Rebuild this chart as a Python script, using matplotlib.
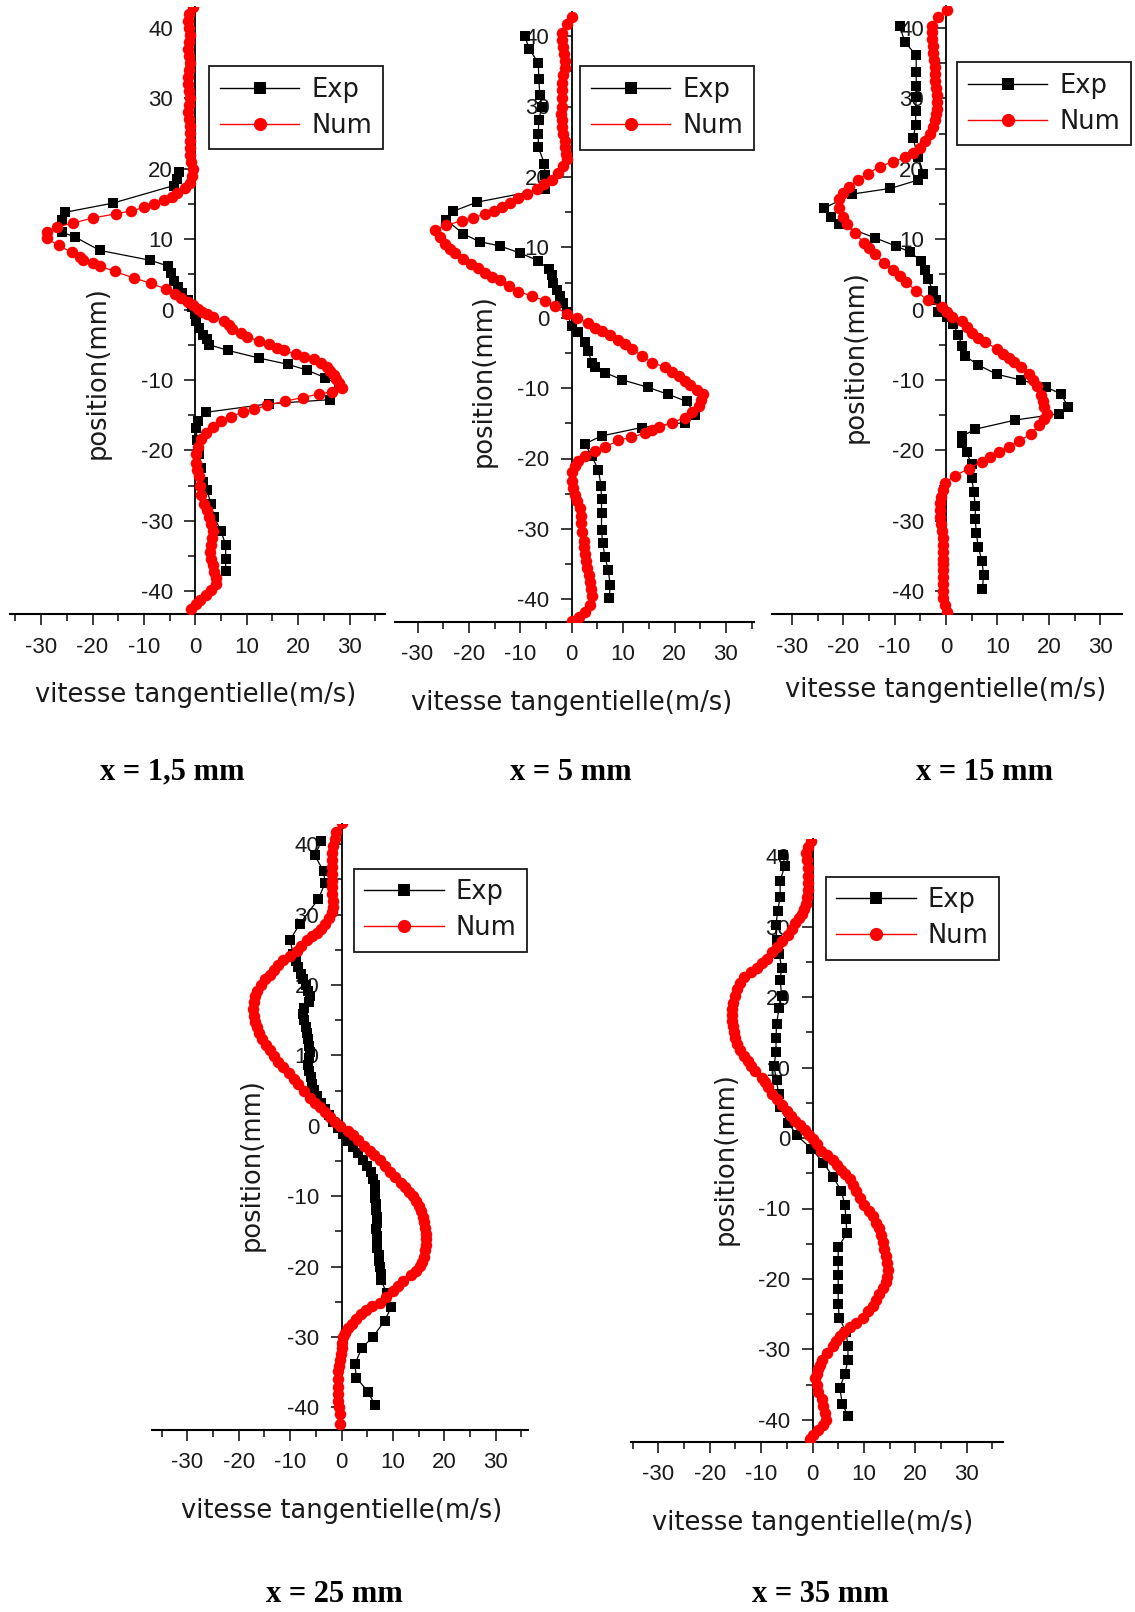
import matplotlib
matplotlib.use("Agg")
import matplotlib.pyplot as plt
from matplotlib.ticker import MultipleLocator
from matplotlib.lines import Line2D

# ---------------------------------------------------------------------------
# Tangential velocity profiles (position in mm, velocity in m/s)
# ---------------------------------------------------------------------------
captions = ["x = 1,5 mm", "x = 5 mm", "x = 15 mm", "x = 25 mm", "x = 35 mm"]
series_labels = ["Exp", "Num"]

# x = 1,5 mm
exp1_pos = [19.5, 18.5, 17.6, 15.1, 13.8, 12.7, 11.0, 10.3, 8.4, 7.0, 6.2, 5.2, 4.1, 3.2, 2.3,
            1.3, 0.4, -0.6, -1.6, -2.6, -3.6, -4.2, -5.0, -5.8, -6.9, -7.8, -8.6, -9.7, -10.7,
            -12.8, -13.4, -14.6, -15.9, -16.9, -18.5, -20.5, -22.5, -24.5, -25.6, -27.6, -29.5,
            -31.5, -33.4, -35.5, -37.2]
exp1_vel = [-3.1, -3.5, -4.2, -16.1, -25.4, -26.0, -26.0, -23.4, -18.6, -8.8, -5.4, -4.7, -4.1,
            -3.4, -2.6, -1.4, -0.6, -0.1, 0.1, 0.8, 1.5, 2.2, 2.7, 6.3, 12.4, 18.1, 21.7, 25.3,
            27.9, 26.3, 14.3, 2.1, 0.5, 0.1, 0.4, 0.8, 1.1, 1.5, 2.3, 3.0, 3.7, 5.0, 5.9, 5.9, 5.9]
num1_pos = [43, 42, 41, 40, 39, 38, 37, 36, 35, 34, 33, 32, 31, 30, 29, 28, 27, 26, 25, 24, 23,
            22, 21, 20, 19, 18, 17.2, 16.5, 16.0, 15.6, 15.0, 14.5, 14.0, 13.6, 13.0, 12.3, 11.7,
            11.0, 10.1, 9.1, 8.1, 7.5, 7.1, 6.6, 6.2, 5.4, 4.5, 3.7, 2.9, 2.2, 1.6, 1.0, 0.6, 0.1,
            -0.3, -0.7, -1.0, -1.6, -2.2, -2.8, -3.4, -3.9, -4.5, -4.9, -5.4, -5.8, -6.3, -6.7,
            -7.1, -7.6, -8.1, -8.7, -9.3, -9.9, -10.4, -11.2, -11.7, -12.0, -12.5, -13.0, -13.6,
            -14.2, -14.6, -15.2, -15.9, -16.7, -17.5, -18.4, -19.5, -20.5, -21.8, -22.8, -23.7,
            -25.0, -26.3, -27.6, -28.5, -29.5, -30.5, -31.5, -32.5, -33.5, -34.5, -35.4, -36.3,
            -37.3, -38.2, -39.0, -39.8, -40.6, -41.3, -41.9, -42.5]
num1_vel = [-0.5, -1.2, -1.5, -1.3, -1.0, -1.2, -1.4, -1.2, -1.0, -1.3, -1.5, -1.4, -1.2, -1.1,
            -1.3, -1.5, -1.3, -1.1, -1.0, -1.0, -1.1, -1.0, -0.8, -0.5, -0.7, -1.0, -2.1, -3.5,
            -4.5, -6.0, -8.0, -9.9, -12.5, -15.4, -19.9, -23.7, -27.0, -28.9, -28.9, -26.6, -24.0,
            -22.5, -21.8, -20.0, -18.6, -15.7, -12.0, -8.6, -5.7, -4.0, -2.8, -1.5, -0.5, 0.5, 1.4,
            2.3, 3.4, 5.6, 6.5, 7.2, 8.8, 10.1, 12.4, 14.3, 15.8, 17.2, 19.5, 21.1, 23.0, 24.5,
            25.6, 26.3, 26.9, 27.4, 27.9, 28.5, 26.6, 24.0, 21.0, 17.5, 14.0, 11.5, 9.2, 7.0, 5.0,
            3.5, 2.1, 1.1, 0.5, 0.1, 0.1, 0.4, 0.8, 1.0, 1.1, 1.7, 2.2, 2.7, 3.0, 3.4, 3.3, 3.0,
            2.9, 3.0, 3.4, 3.7, 4.0, 4.0, 3.0, 2.1, 1.0, 0.1, -0.8]

# x = 5 mm
exp2_pos = [40.0, 38.2, 36.2, 33.9, 31.6, 30.0, 28.1, 26.1, 24.2, 21.9, 20.3, 18.3, 16.4, 15.1,
            13.9, 11.9, 10.8, 10.2, 9.2, 8.1, 6.9, 6.0, 5.0, 4.0, 3.1, 2.1, 0.8, -1.2, -2.1, -3.4,
            -4.7, -6.4, -7.0, -7.8, -8.8, -9.9, -10.9, -11.9, -13.8, -14.9, -15.6, -16.8, -17.9,
            -19.7, -21.6, -23.9, -25.8, -27.8, -30.1, -32.0, -34.0, -35.9, -37.9, -39.8]
exp2_vel = [-9.1, -8.3, -6.5, -6.4, -6.2, -5.8, -6.4, -6.5, -6.5, -5.3, -5.2, -5.1, -18.5, -23.1,
            -24.4, -21.1, -17.9, -14.0, -10.1, -6.5, -4.5, -3.9, -3.6, -2.9, -2.3, -1.6, -1.0, 0.0,
            1.3, 2.6, 3.2, 3.9, 4.5, 6.5, 9.7, 14.9, 18.8, 22.4, 24.0, 22.0, 13.6, 5.8, 2.6, 3.9,
            5.2, 5.7, 5.8, 5.8, 5.8, 6.0, 6.5, 7.1, 7.5, 7.3]
num2_pos = [42.7, 41.7, 40.4, 39.4, 38.4, 37.4, 36.5, 35.5, 34.5, 33.4, 32.3, 31.2, 30.0, 29.0,
            28.1, 27.1, 26.1, 25.1, 24.2, 23.3, 22.5, 21.6, 20.6, 19.6, 19.0, 18.3, 17.6, 17.0,
            16.3, 15.7, 15.2, 14.7, 14.2, 13.8, 13.1, 12.5, 11.5, 10.5, 9.8, 9.2, 8.4, 7.6, 7.0,
            6.3, 5.8, 5.3, 4.5, 3.7, 3.1, 2.4, 1.6, 0.5, 0.0, -0.8, -1.4, -1.9, -2.5, -3.1, -3.7,
            -4.4, -5.4, -6.4, -7.0, -7.7, -8.3, -9.0, -9.6, -10.3, -10.9, -11.7, -12.5, -13.4,
            -14.2, -14.9, -15.5, -16.0, -16.4, -17.0, -17.4, -18.4, -19.0, -19.7, -20.3, -21.1,
            -21.9, -23.2, -24.2, -25.2, -26.1, -27.1, -28.1, -29.1, -30.4, -31.7, -32.6, -33.6,
            -34.6, -35.6, -36.5, -37.5, -38.5, -39.5, -40.8, -41.8, -42.5, -43.1]
num2_vel = [0.0, -1.0, -1.9, -1.8, -1.6, -1.5, -1.3, -1.4, -1.6, -1.8, -1.9, -1.9, -1.9, -2.0,
            -1.9, -1.8, -1.6, -1.4, -1.3, -1.1, -1.0, -1.6, -2.7, -3.9, -5.3, -6.8, -8.6, -10.4,
            -12.0, -13.6, -15.2, -16.9, -19.2, -21.4, -24.4, -26.6, -25.7, -24.7, -23.7, -22.7,
            -21.1, -19.5, -18.2, -16.9, -15.5, -14.0, -12.2, -10.4, -7.8, -5.2, -3.2, -1.0, 1.0,
            3.2, 4.5, 5.8, 7.5, 9.1, 10.4, 11.7, 13.6, 15.6, 18.2, 19.5, 20.8, 22.0, 23.1, 24.4,
            25.6, 25.2, 24.7, 23.4, 22.1, 19.5, 16.9, 15.6, 14.3, 11.5, 9.1, 6.5, 4.5, 2.6, 1.3,
            0.6, 0.0, 0.0, 0.3, 0.6, 1.1, 1.6, 1.8, 1.9, 2.1, 2.3, 2.4, 2.6, 2.8, 2.9, 3.3, 3.6,
            3.8, 3.9, 3.6, 2.6, 1.5, 0.0]

# x = 15 mm
exp3_pos = [40.2, 38.0, 36.1, 33.8, 31.8, 30.2, 28.2, 26.2, 24.3, 21.6, 19.3, 18.4, 17.2, 16.4,
            14.4, 13.1, 12.1, 10.2, 9.0, 8.2, 6.9, 5.6, 4.3, 2.6, 1.3, -0.3, -1.0, -2.0, -3.6,
            -5.2, -6.6, -7.9, -9.2, -10.0, -11.0, -12.0, -13.8, -14.8, -15.7, -17.0, -18.0, -19.0,
            -20.3, -22.0, -23.9, -25.9, -27.9, -29.8, -31.8, -33.8, -35.7, -37.7, -39.7]
exp3_vel = [-9.0, -8.0, -5.8, -5.8, -5.8, -5.8, -5.9, -5.9, -6.4, -5.4, -4.4, -5.4, -10.8, -18.2,
            -23.7, -22.4, -20.8, -13.9, -9.7, -7.1, -4.8, -4.1, -3.5, -2.5, -2.0, -1.5, 0.1, 1.4,
            2.4, 3.1, 3.7, 6.3, 9.9, 14.5, 19.4, 22.4, 23.7, 22.0, 13.5, 5.7, 3.1, 3.1, 4.0, 5.0,
            5.0, 5.4, 5.7, 5.7, 5.9, 6.3, 7.0, 7.3, 7.1]
num3_pos = [42.6, 41.6, 40.3, 39.4, 38.4, 37.4, 36.4, 35.4, 34.4, 33.4, 32.5, 31.5, 30.5, 29.5,
            28.5, 27.7, 26.9, 25.9, 24.9, 24.0, 23.0, 22.3, 21.6, 21.0, 20.3, 19.3, 18.4, 17.4,
            16.5, 15.7, 14.4, 13.2, 12.1, 10.8, 9.5, 8.7, 7.9, 6.6, 5.6, 4.8, 3.9, 2.6, 1.3, 0.3,
            -0.3, -1.0, -1.6, -2.5, -3.3, -4.0, -4.6, -5.6, -6.3, -6.9, -7.5, -8.2, -9.2, -10.0,
            -10.8, -12.1, -13.0, -13.8, -14.8, -15.6, -16.4, -17.7, -18.7, -19.5, -20.3, -21.0,
            -21.6, -22.6, -23.6, -24.6, -25.6, -26.6, -27.5, -28.5, -29.5, -30.5, -31.5, -32.5,
            -33.4, -34.4, -35.4, -36.2, -37.0, -38.0, -39.0, -40.0, -41.0, -42.0, -42.9]
num3_vel = [0.1, -1.5, -2.8, -2.8, -2.8, -2.6, -2.5, -2.3, -2.2, -2.2, -2.2, -2.0, -1.8, -1.8,
            -1.8, -2.0, -2.2, -2.6, -3.1, -4.0, -5.1, -6.4, -8.0, -10.3, -12.9, -15.2, -17.2,
            -18.8, -20.0, -20.8, -20.8, -20.0, -19.2, -17.8, -15.9, -14.9, -13.9, -12.0, -10.3,
            -9.0, -7.7, -5.8, -3.5, -0.8, 0.2, 1.1, 3.1, 4.0, 5.0, 6.3, 7.6, 9.9, 11.0, 12.2, 13.3,
            14.5, 16.1, 17.0, 17.8, 18.4, 18.8, 19.1, 19.7, 19.0, 18.1, 16.5, 14.2, 12.3, 10.3,
            8.6, 7.0, 4.4, 1.8, -0.2, -0.6, -0.9, -1.1, -1.2, -1.1, -0.9, -0.7, -0.5, -0.5, -0.5,
            -0.5, -0.6, -0.5, -0.5, -0.5, -0.6, -0.5, -0.2, 0.1]

# x = 25 mm
exp4_pos = [40.4, 38.4, 36.2, 34.5, 32.2, 28.7, 26.4, 24.4, 23.4, 22.5, 21.6, 20.8, 20.0, 19.2,
            18.4, 17.6, 16.8, 15.9, 15.0, 14.1, 13.2, 12.3, 11.4, 10.5, 9.6, 8.7, 7.8, 6.9, 6.0,
            5.1, 4.2, 3.3, 2.4, 1.5, 0.6, -0.3, -1.2, -2.1, -3.0, -3.9, -4.8, -5.7, -6.6, -7.5,
            -8.4, -9.3, -10.2, -11.1, -12.0, -12.9, -13.8, -14.7, -15.6, -16.5, -17.4, -18.3,
            -19.2, -20.1, -21.0, -21.9, -23.8, -25.7, -27.7, -30.0, -31.6, -33.9, -35.8, -37.8,
            -39.7]
exp4_vel = [-3.9, -5.2, -3.5, -3.2, -4.5, -8.1, -10.0, -9.4, -8.9, -8.4, -7.8, -7.4, -6.9, -6.5,
            -6.2, -6.3, -7.2, -7.4, -7.2, -7.0, -6.8, -6.6, -6.4, -6.2, -6.3, -6.5, -6.3, -6.0,
            -5.8, -5.3, -4.7, -4.0, -3.3, -2.5, -1.6, -0.7, 0.3, 1.3, 2.3, 3.2, 4.1, 5.0, 5.7, 6.2,
            6.5, 6.6, 6.6, 6.7, 6.8, 6.9, 6.9, 6.8, 6.9, 6.9, 7.0, 7.2, 7.3, 7.5, 7.7, 7.7, 8.8,
            9.7, 8.4, 6.1, 3.9, 2.6, 2.9, 5.2, 6.5]
num4_pos = [43.0, 41.7, 40.7, 39.7, 38.7, 37.8, 36.8, 35.8, 34.8, 33.9, 32.9, 31.9, 31.1, 30.3,
            29.5, 28.7, 28.0, 27.4, 26.9, 26.4, 25.6, 24.8, 24.1, 23.5, 22.8, 22.1, 21.4, 20.8,
            20.0, 19.2, 18.4, 17.6, 16.6, 15.6, 14.8, 14.0, 13.2, 12.4, 11.5, 10.7, 9.9, 9.1, 8.3,
            7.5, 6.7, 5.9, 4.9, 3.9, 3.2, 2.6, 1.9, 1.3, 0.6, 0.0, -0.7, -1.3, -2.0, -2.8, -3.6,
            -4.2, -4.9, -5.7, -6.5, -7.3, -8.1, -8.7, -9.4, -10.0, -10.7, -11.4, -12.1, -12.9,
            -13.7, -14.5, -15.3, -16.1, -16.9, -17.7, -18.6, -19.3, -19.9, -20.6, -21.2, -22.1,
            -22.8, -23.5, -24.3, -25.1, -25.6, -26.1, -26.8, -27.4, -28.1, -28.7, -29.4, -30.0,
            -30.8, -31.6, -32.4, -33.2, -34.1, -34.9, -36.0, -37.1, -38.1, -39.1, -40.0, -41.0,
            -42.3]
num4_vel = [0.0, -1.0, -1.3, -1.6, -1.8, -1.9, -1.9, -1.9, -1.9, -1.9, -1.8, -1.6, -1.7, -1.9,
            -2.5, -3.2, -4.0, -4.8, -5.8, -6.8, -7.8, -8.7, -10.0, -11.3, -12.3, -13.2, -14.0,
            -14.8, -15.7, -16.5, -16.9, -17.1, -17.2, -17.1, -16.8, -16.5, -16.0, -15.5, -14.7,
            -13.9, -13.1, -12.3, -11.3, -10.3, -9.3, -8.4, -7.2, -6.1, -5.1, -4.2, -3.2, -2.3,
            -1.3, -0.3, 1.3, 2.2, 3.2, 4.3, 5.5, 6.4, 7.4, 8.4, 9.4, 10.5, 11.6, 12.4, 13.2, 13.9,
            14.5, 15.0, 15.5, 15.8, 16.1, 16.3, 16.5, 16.5, 16.5, 16.3, 16.1, 15.7, 15.2, 14.4,
            13.5, 11.9, 11.0, 10.0, 8.7, 7.4, 6.0, 4.8, 3.8, 2.9, 2.0, 1.3, 0.7, 0.3, 0.1, 0.0,
            -0.1, -0.3, -0.5, -0.6, -0.6, -0.6, -0.6, -0.6, -0.5, -0.3, -0.3]

# x = 35 mm
exp5_pos = [40.2, 38.7, 36.5, 34.2, 32.2, 30.2, 28.2, 26.2, 24.2, 22.5, 20.2, 18.5, 16.2, 14.2,
            12.2, 10.2, 8.2, 6.2, 4.4, 2.2, 0.4, -1.5, -3.5, -5.5, -7.5, -9.5, -11.5, -13.5,
            -15.5, -17.5, -19.5, -21.5, -23.5, -25.5, -27.5, -29.5, -31.5, -33.5, -35.5, -37.7,
            -39.5]
exp5_vel = [-5.7, -5.4, -6.3, -6.3, -6.8, -7.1, -7.0, -6.5, -6.0, -6.3, -6.0, -6.5, -7.0, -7.1,
            -7.1, -7.5, -7.0, -6.6, -6.3, -4.7, -3.1, -0.2, 2.1, 4.0, 5.6, 6.3, 6.5, 6.7, 5.0,
            5.0, 5.0, 5.0, 5.0, 5.2, 6.5, 6.9, 6.9, 6.3, 5.3, 5.8, 6.9]
num5_pos = [42.2, 41.3, 40.5, 39.5, 38.3, 37.2, 36.2, 35.2, 34.2, 33.2, 32.5, 31.9, 31.2, 30.5,
            29.7, 28.9, 28.0, 27.2, 26.4, 25.5, 24.9, 24.2, 23.6, 22.9, 22.1, 21.2, 20.2, 19.2,
            18.3, 17.5, 16.7, 15.9, 15.0, 14.2, 13.3, 12.5, 11.7, 10.9, 10.2, 9.5, 8.5, 7.9, 7.2,
            6.3, 5.5, 4.7, 3.9, 3.2, 2.5, 1.8, 1.2, 0.5, -0.1, -0.9, -1.8, -2.4, -3.1, -3.8, -4.5,
            -5.1, -5.8, -6.6, -7.5, -8.5, -9.5, -10.3, -11.1, -12.0, -12.8, -13.8, -14.8, -15.8,
            -16.8, -17.8, -18.8, -19.7, -20.5, -21.3, -22.1, -23.0, -23.8, -24.6, -25.5, -26.2,
            -26.8, -27.5, -28.1, -28.8, -29.5, -30.5, -31.5, -32.2, -32.8, -33.5, -34.1, -35.1,
            -36.1, -37.1, -38.1, -39.1, -40.1, -40.8, -41.5, -42.2, -42.8]
num5_vel = [-0.2, -0.8, -1.2, -1.0, -0.8, -0.8, -0.9, -0.8, -1.0, -1.2, -1.6, -2.1, -2.7, -3.4,
            -4.0, -4.7, -5.9, -7.0, -7.9, -8.9, -9.8, -10.8, -12.0, -13.4, -14.2, -14.7, -15.1,
            -15.4, -15.6, -15.7, -15.6, -15.4, -15.2, -15.0, -14.6, -14.1, -13.3, -12.5, -11.9,
            -11.2, -9.9, -9.2, -8.6, -7.8, -7.0, -6.0, -5.0, -4.2, -3.4, -2.4, -1.5, -0.7, 0.1,
            0.9, 1.7, 2.9, 4.0, 4.8, 5.6, 6.4, 7.2, 7.8, 8.5, 9.3, 10.1, 10.9, 11.7, 12.4, 13.0,
            13.4, 13.7, 14.0, 14.3, 14.5, 14.6, 14.5, 14.3, 13.7, 13.0, 12.4, 11.7, 10.8, 9.8,
            8.5, 7.2, 6.2, 5.3, 4.6, 4.0, 2.9, 1.9, 1.5, 1.1, 0.8, 0.5, 0.8, 1.1, 1.8, 2.1, 2.4,
            2.6, 2.0, 1.0, 0.1, -0.5]

exp_data = [(exp1_vel, exp1_pos), (exp2_vel, exp2_pos), (exp3_vel, exp3_pos),
            (exp4_vel, exp4_pos), (exp5_vel, exp5_pos)]
num_data = [(num1_vel, num1_pos), (num2_vel, num2_pos), (num3_vel, num3_pos),
            (num4_vel, num4_pos), (num5_vel, num5_pos)]

# ---------------------------------------------------------------------------
# Layout (pixels on a 1135 x 1612 canvas)
# ---------------------------------------------------------------------------
FIG_W, FIG_H = 1135, 1612
SX, SY = 5.14, 7.04          # pixels per m/s and per mm

# origin pixel (x0, y0), x-limits, y-limits
panel_frames = [
    (195.3, 309.5, (-36.0, 37.0), (-43.3, 43.0)),
    (571.7, 317.7, (-34.3, 35.5), (-43.2, 43.4)),
    (946.0, 309.5, (-33.8, 34.2), (-43.3, 43.1)),
    (341.5, 1125.8, (-36.8, 36.2), (-43.2, 42.8)),
    (812.5, 1138.1, (-35.3, 37.1), (-43.2, 42.5)),
]
legend_corner = [(209.0, 66.0), (580.0, 66.5), (957.0, 62.0), (353.7, 868.7), (825.7, 876.7)]
xlabel_y = [695.0, 703.0, 690.0, 1511.0, 1523.0]
ylabel_xy = [(98.0, 373.0), (483.2, 380.4), (855.4, 356.7), (251.9, 1164.8), (725.8, 1158.7)]
caption_xy = [(172.0, 772.0), (570.6, 772.0), (985.0, 772.0), (334.0, 1594.0), (820.4, 1594.0)]

plt.rcParams['axes.unicode_minus'] = False
plt.rcParams['font.family'] = ['Liberation Sans', 'DejaVu Sans']

LABEL_FONT = dict(family='DejaVu Sans', size=18.5)

fig = plt.figure(figsize=(FIG_W / 100, FIG_H / 100), dpi=100, facecolor='white')


def fx(px):
    return px / FIG_W


def fy(py):
    return 1 - py / FIG_H


for i, (x0, y0, xlim, ylim) in enumerate(panel_frames):
    left = x0 + xlim[0] * SX
    right = x0 + xlim[1] * SX
    top = y0 - ylim[1] * SY
    bottom = y0 - ylim[0] * SY
    ax = fig.add_axes([fx(left), fy(bottom), (right - left) / FIG_W, (bottom - top) / FIG_H])
    ax.set_xlim(*xlim)
    ax.set_ylim(*ylim)
    ax.patch.set_alpha(0)

    for side in ('top', 'right'):
        ax.spines[side].set_visible(False)
    ax.spines['left'].set_position(('data', 0))
    ax.spines['left'].set_linewidth(1.3)
    ax.spines['bottom'].set_linewidth(1.5)

    ax.xaxis.set_major_locator(MultipleLocator(10))
    ax.xaxis.set_minor_locator(MultipleLocator(5))
    ax.yaxis.set_major_locator(MultipleLocator(10))
    ax.yaxis.set_minor_locator(MultipleLocator(5))
    ax.tick_params(which='major', direction='out', length=8, width=1.2,
                   labelsize=16, pad=8, colors='#1a1a1a')
    ax.tick_params(which='minor', direction='out', length=5, width=1.2, colors='#1a1a1a')

    ev, ep = exp_data[i]
    nv, npos = num_data[i]
    ax.plot(ev, ep, color='black', lw=0.9, marker='s', ms=7, mfc='black', mec='black',
            mew=0, zorder=3, clip_on=True)
    ax.plot(nv, npos, color='red', lw=0.9, marker='o', ms=8.3, mfc='red', mec='red',
            mew=0, zorder=4, clip_on=True)

    handles = [
        Line2D([], [], color='black', lw=1.0, marker='s', ms=8.5, mfc='black', mew=0),
        Line2D([], [], color='red', lw=1.0, marker='o', ms=9.5, mfc='red', mew=0),
    ]
    lx, ly = legend_corner[i]
    leg = ax.legend(handles, series_labels, loc='upper left',
                    bbox_to_anchor=(fx(lx), fy(ly)), bbox_transform=fig.transFigure,
                    borderaxespad=0, frameon=True, fancybox=False, framealpha=1,
                    edgecolor='#1a1a1a', prop=LABEL_FONT, handlelength=3.1,
                    handletextpad=0.45, borderpad=0.42, labelspacing=0.38, numpoints=1)
    leg.get_frame().set_linewidth(1.3)
    leg.set_zorder(6)
    for t in leg.get_texts():
        t.set_color('#1a1a1a')

    ax.set_xlabel('vitesse tangentielle(m/s)', fontdict=LABEL_FONT, color='#1a1a1a', va='center')
    ax.xaxis.set_label_coords(fx(x0), fy(xlabel_y[i]), transform=fig.transFigure)
    ax.set_ylabel('position(mm)', fontdict=LABEL_FONT, color='#1a1a1a', va='center', ha='center')
    yx, yy = ylabel_xy[i]
    ax.yaxis.set_label_coords(fx(yx), fy(yy), transform=fig.transFigure)

    cx, cy = caption_xy[i]
    fig.text(fx(cx), fy(cy), captions[i], ha='center', va='center',
             family='Liberation Serif', weight='bold', fontsize=22)

fig.savefig('out.png', dpi=100, facecolor='white')
